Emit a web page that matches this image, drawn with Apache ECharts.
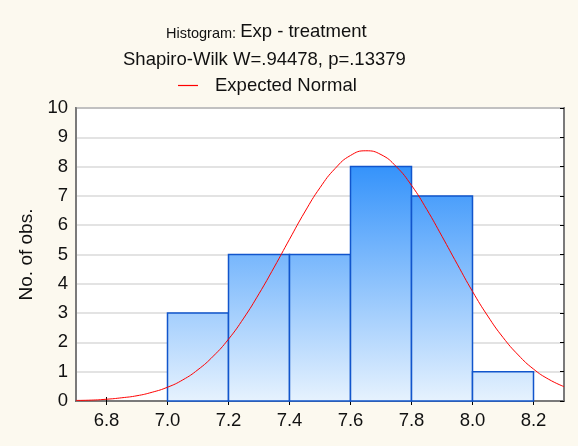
<!DOCTYPE html>
<html>
<head>
<meta charset="utf-8">
<script src="https://cdn.jsdelivr.net/npm/echarts@6/dist/echarts.min.js"></script>
<style>
html,body{margin:0;padding:0;background:#fcf9ef;}
#c{width:578px;height:446px;}
</style>
</head>
<body>
<div id="c"></div>
<script>
// Histogram bins: [lower, upper, count]
const binLower = [7.0, 7.2, 7.4, 7.6, 7.8, 8.0];
const binUpper = [7.2, 7.4, 7.6, 7.8, 8.0, 8.2];
const binCounts = [3, 5, 5, 8, 7, 1];
// Expected normal curve
const curveX = [6.70,6.75,6.80,6.85,6.90,6.95,7.00,7.05,7.10,7.15,7.20,7.25,7.30,7.35,7.40,7.45,7.50,7.55,7.60,7.65,7.70,7.75,7.80,7.85,7.90,7.95,8.00,8.05,8.10,8.15,8.20,8.25,8.30];
const curveY = [0.02,0.03,0.06,0.11,0.18,0.30,0.47,0.72,1.07,1.53,2.11,2.83,3.66,4.57,5.52,6.45,7.28,7.94,8.38,8.54,8.41,8.00,7.36,6.54,5.62,4.67,3.74,2.90,2.17,1.57,1.09,0.74,0.49];
const xTicks = [6.8, 7.0, 7.2, 7.4, 7.6, 7.8, 8.0, 8.2];

const chart = echarts.init(document.getElementById('c'));
const font = 'Liberation Sans, Arial, sans-serif';
const barData = binCounts.map((c, i) => [binLower[i], binUpper[i], c]);
const lineData = curveX.map((x, i) => [x, curveY[i]]);

chart.setOption({
  backgroundColor: '#fcf9ef',
  animation: false,
  textStyle: { fontFamily: font },
  title: [
    { text: '{a|Histogram: }{b|Exp - treatment}', left: 161, top: 17,
      textStyle: { rich: {
        a: { fontSize: 14.5, fontFamily: font, fontWeight: 'normal', color: '#111', verticalAlign: 'bottom' },
        b: { fontSize: 18.5, fontFamily: font, fontWeight: 'normal', color: '#111', verticalAlign: 'bottom' } } } },
    { text: 'Shapiro-Wilk W=.94478, p=.13379', left: 118, top: 45,
      textStyle: { fontSize: 18.5, fontWeight: 'normal', fontFamily: font, color: '#111' } }
  ],
  legend: {
    top: 71, left: 173, itemWidth: 20, itemHeight: 1.2, itemGap: 10,
    textStyle: { fontSize: 18.5, fontFamily: font, color: '#111', padding: [0, 0, 0, 12] },
    itemStyle: { color: '#ff0000', borderWidth: 0 },
    data: [{ name: 'Expected Normal', icon: 'rect', itemStyle: { color: '#ff0000' } }]
  },
  grid: { left: 76, right: 14, top: 108, bottom: 45, show: true, borderColor: '#7a7a7a', borderWidth: 2, backgroundColor: '#ffffff' },
  xAxis: [
    { type: 'value', min: 6.7, max: 8.3, position: 'bottom',
      axisLine: { show: true, onZero: false, lineStyle: { color: '#000', width: 1.5 } },
      axisTick: { show: true, inside: true, length: 4, customValues: xTicks, lineStyle: { color: '#000' } },
      axisLabel: { customValues: xTicks, formatter: v => v.toFixed(1), fontSize: 18.5, color: '#111', margin: 10 },
      splitLine: { show: false } },
    { type: 'value', min: 6.7, max: 8.3, position: 'top',
      axisLine: { show: true, lineStyle: { color: '#7a7a7a', width: 2 } },
      axisTick: { show: true, inside: true, length: 4, customValues: xTicks, lineStyle: { color: '#000' } },
      axisLabel: { show: false }, splitLine: { show: false } }
  ],
  yAxis: [
    { type: 'value', min: 0, max: 10, interval: 1, position: 'left',
      name: 'No. of obs.', nameLocation: 'middle', nameGap: 39, nameRotate: 90,
      nameTextStyle: { fontSize: 19, color: '#111', fontFamily: font },
      axisLine: { show: true, lineStyle: { color: '#7a7a7a', width: 2 } },
      axisTick: { show: false },
      axisLabel: { fontSize: 18.5, color: '#111', margin: 8 },
      splitLine: { show: true, lineStyle: { color: '#dadada', width: 1.5 } } },
    { type: 'value', min: 0, max: 10, interval: 1, position: 'right',
      axisLine: { show: true, lineStyle: { color: '#7a7a7a', width: 2 } },
      axisTick: { show: true, inside: true, length: 4, lineStyle: { color: '#000' } },
      axisLabel: { show: false }, splitLine: { show: false } }
  ],
  series: [
    { type: 'custom', name: 'Histogram', xAxisIndex: 0, yAxisIndex: 0,
      data: barData,
      encode: { x: [0, 1], y: 2 },
      renderItem: function (params, api) {
        const p0 = api.coord([api.value(0), api.value(2)]);
        const p1 = api.coord([api.value(1), 0]);
        const gTop = api.coord([7, 8])[1];
        const gBot = api.coord([7, 0])[1];
        return {
          type: 'rect',
          shape: { x: p0[0], y: p0[1], width: p1[0] - p0[0], height: p1[1] - p0[1] },
          style: {
            fill: new echarts.graphic.LinearGradient(0, gTop, 0, gBot, [
              { offset: 0, color: '#3593fb' },
              { offset: 1, color: '#e6f2fe' }
            ], true),
            stroke: '#1155cc', lineWidth: 1.5
          }
        };
      }
    },
    { type: 'line', name: 'Expected Normal', xAxisIndex: 0, yAxisIndex: 0,
      data: lineData, smooth: true, symbol: 'none',
      lineStyle: { color: '#ff0000', width: 1 }, itemStyle: { color: '#ff0000' }, z: 5 }
  ]
});
</script>
</body>
</html>
